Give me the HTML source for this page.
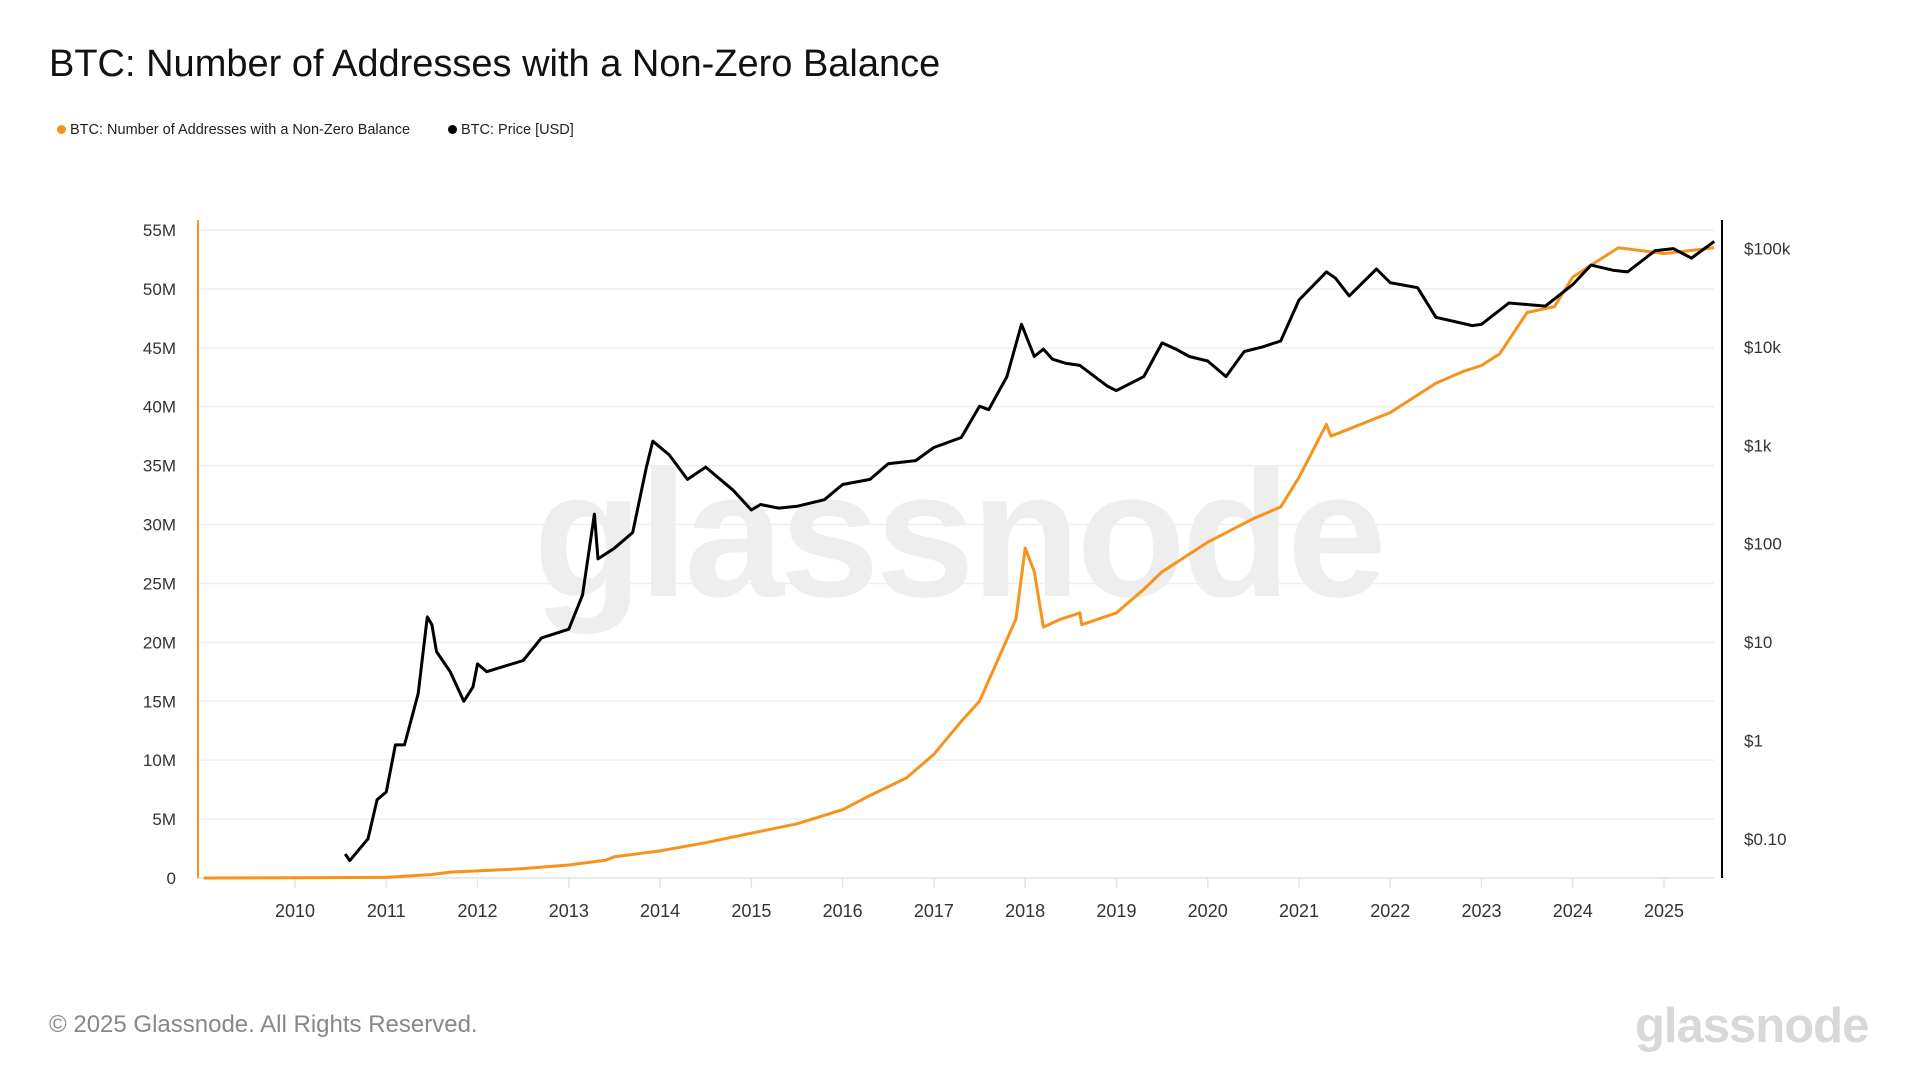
<!DOCTYPE html>
<html><head><meta charset="utf-8">
<style>
body{margin:0;background:#fff;width:1920px;height:1080px;overflow:hidden;font-family:"Liberation Sans",sans-serif;}
#title{position:absolute;left:49px;top:43px;font-size:38px;color:#111;white-space:nowrap;}
.leg{position:absolute;top:122px;font-size:14.5px;color:#222;white-space:nowrap;}
.dot{display:inline-block;width:9px;height:9px;border-radius:50%;margin-right:4px;vertical-align:0px;}
#footer{position:absolute;left:49px;top:1011px;font-size:24px;color:#888;}
#logo{position:absolute;left:1635px;top:998px;font-size:49px;font-weight:bold;color:#d8d8d8;letter-spacing:-1px;}
svg{position:absolute;left:0;top:0;}
</style></head><body>
<div id="title">BTC: Number of Addresses with a Non-Zero Balance</div>
<div class="leg" style="left:57px"><span class="dot" style="background:#f7931a"></span>BTC: Number of Addresses with a Non-Zero Balance</div>
<div class="leg" style="left:448px"><span class="dot" style="background:#000"></span>BTC: Price [USD]</div>
<svg id="chart" width="1920" height="1080"></svg>
<div id="footer">© 2025 Glassnode. All Rights Reserved.</div>
<div id="logo">glassnode</div>
<script>
const leftTicks=[0,5,10,15,20,25,30,35,40,45,50,55];
const leftTickLabels=["0","5M","10M","15M","20M","25M","30M","35M","40M","45M","50M","55M"];
const rightTicks=[0.1,1,10,100,1000,10000,100000];
const rightTickLabels=["$0.10","$1","$10","$100","$1k","$10k","$100k"];
const yearTicks=[2010,2011,2012,2013,2014,2015,2016,2017,2018,2019,2020,2021,2022,2023,2024,2025];
const addrYears=[2009.0,2011.0,2011.5,2011.7,2012.0,2012.5,2013.0,2013.4,2013.5,2014.0,2014.5,2015.0,2015.5,2016.0,2016.3,2016.7,2017.0,2017.3,2017.5,2017.7,2017.9,2018.0,2018.1,2018.2,2018.4,2018.6,2018.62,2019.0,2019.3,2019.5,2020.0,2020.5,2020.8,2021.0,2021.2,2021.3,2021.35,2022.0,2022.5,2022.8,2023.0,2023.2,2023.5,2023.8,2024.0,2024.2,2024.5,2025.0,2025.55];
const addrValues=[0,0.05,0.3,0.5,0.6,0.8,1.1,1.5,1.8,2.3,3.0,3.8,4.6,5.8,7,8.5,10.5,13.3,15,18.5,22,28,26,21.3,22,22.5,21.5,22.5,24.5,26,28.5,30.5,31.5,34,37,38.5,37.5,39.5,42,43,43.5,44.5,48,48.5,51,52,53.5,53,53.5];
const priceYears=[2010.55,2010.6,2010.8,2010.9,2011.0,2011.1,2011.2,2011.35,2011.45,2011.5,2011.55,2011.7,2011.85,2011.95,2012.0,2012.1,2012.5,2012.7,2013.0,2013.15,2013.28,2013.32,2013.5,2013.7,2013.85,2013.92,2014.1,2014.3,2014.5,2014.8,2015.0,2015.1,2015.3,2015.5,2015.8,2016.0,2016.3,2016.5,2016.8,2017.0,2017.3,2017.5,2017.6,2017.8,2017.96,2018.1,2018.2,2018.3,2018.45,2018.6,2018.9,2019.0,2019.3,2019.5,2019.65,2019.8,2020.0,2020.2,2020.4,2020.6,2020.8,2021.0,2021.3,2021.4,2021.55,2021.85,2022.0,2022.3,2022.5,2022.9,2023.0,2023.3,2023.7,2024.0,2024.2,2024.45,2024.6,2024.9,2025.1,2025.3,2025.55];
const priceValues=[0.07,0.06,0.1,0.25,0.3,0.9,0.9,3,18,15,8,5,2.5,3.5,6,5,6.5,11,13.5,30,200,70,90,130,600,1100,800,450,600,350,220,250,230,240,280,400,450,650,700,950,1200,2500,2300,5000,17000,8000,9500,7500,6800,6500,4000,3600,5000,11000,9500,8000,7200,5000,9000,10000,11500,30000,58000,50000,33000,62000,45000,40000,20000,16500,17000,28000,26000,43000,68000,60000,58000,95000,100000,80000,118000];

const svg=document.getElementById('chart');
const NS='http://www.w3.org/2000/svg';
const X0=198,X1=1714,YB=878,YT=230;
function xS(yr){return 295+(yr-2010)*91.27;}
function yL(v){return YB-(v/55)*(YB-YT);}
function yR(p){return 838.8-98.37*Math.log10(p/0.1);}
function mk(tag,attrs){const e=document.createElementNS(NS,tag);for(const k in attrs)e.setAttribute(k,attrs[k]);svg.appendChild(e);return e;}

const wm=mk('text',{x:958,y:596,'text-anchor':'middle','font-size':'179','font-weight':'bold',fill:'#eeeeee','font-family':'Liberation Sans, sans-serif','letter-spacing':'-4'});
wm.textContent='glassnode';



leftTicks.forEach((v,i)=>{
  const g=mk('line',{x1:X0,x2:X1,y1:yL(v),y2:yL(v),stroke:i==0?'#e4e4e4':'#efefef','stroke-width':1.5});
  
  
  const t=mk('text',{x:176,y:yL(v)+6,'text-anchor':'end','font-size':'17',fill:'#333'});
  t.textContent=leftTickLabels[i];
  
  
});
rightTicks.forEach((p,i)=>{
  const t=mk('text',{x:1744,y:yR(p)+6,'font-size':'17',fill:'#333'});
  t.textContent=rightTickLabels[i];
  
  
});
yearTicks.forEach(yr=>{
  const l=mk('line',{x1:xS(yr),x2:xS(yr),y1:YB,y2:YB+10,stroke:'#e4e4e4','stroke-width':1.5});
  
  
  const t=mk('text',{x:xS(yr),y:917,'text-anchor':'middle','font-size':'18',fill:'#333'});
  t.textContent=String(yr);
  
  
});
const la=mk('line',{x1:X0,x2:X0,y1:220,y2:YB,stroke:'#f7931a','stroke-width':2});


const ra=mk('line',{x1:1722,x2:1722,y1:220,y2:YB,stroke:'#000','stroke-width':2});



const oa=mk('polyline',{points:addrYears.map((y,i)=>xS(y).toFixed(1)+','+yL(addrValues[i]).toFixed(1)).join(' '),fill:'none',stroke:'#f7931a','stroke-width':3,'stroke-linejoin':'round'});


const pb=mk('polyline',{points:priceYears.map((y,i)=>xS(y).toFixed(1)+','+yR(priceValues[i]).toFixed(1)).join(' '),fill:'none',stroke:'#000','stroke-width':3,'stroke-linejoin':'round'});


</script>
</body></html>
